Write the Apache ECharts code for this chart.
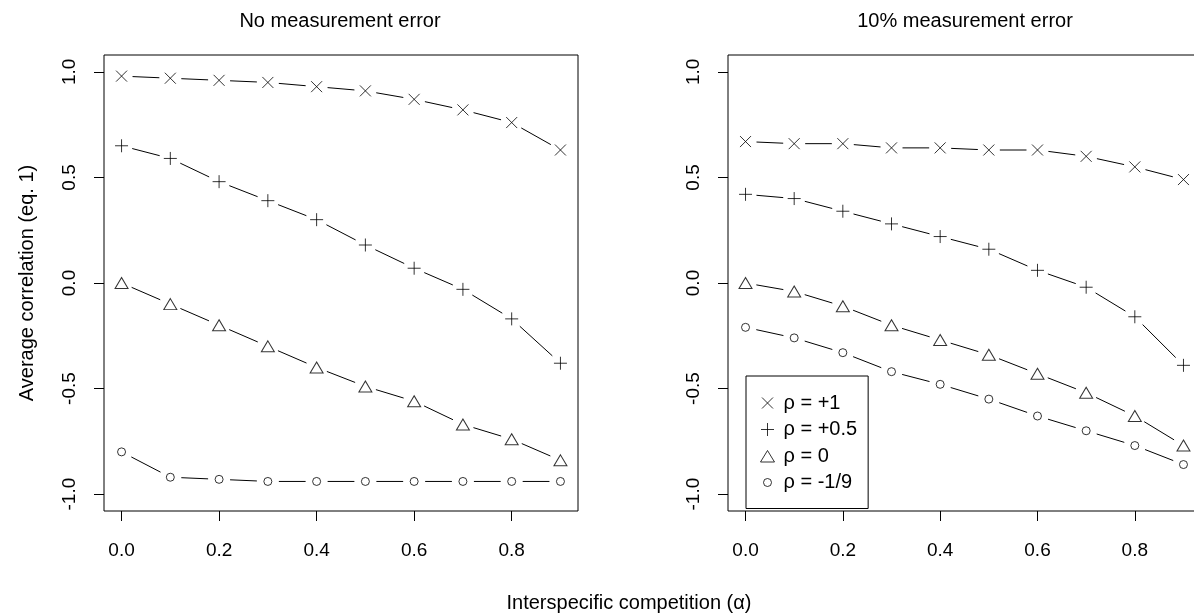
<!DOCTYPE html>
<html>
<head>
<meta charset="utf-8">
<script src="https://cdn.jsdelivr.net/npm/echarts@6/dist/echarts.min.js"></script>
<style>
  html, body { margin: 0; padding: 0; background: #fff; }
  #container { width: 1194px; height: 616px; }
</style>
</head>
<body>
<div id="container"></div>
<script>
var alphas = [0, 0.1, 0.2, 0.3, 0.4, 0.5, 0.6, 0.7, 0.8, 0.9];
var names = ['ρ = +1', 'ρ = +0.5', 'ρ = 0', 'ρ = -1/9'];

// left panel: no measurement error
var noErrP1   = [0.98, 0.97, 0.96, 0.95, 0.93, 0.91, 0.87, 0.82, 0.76, 0.63];
var noErrP05  = [0.65, 0.59, 0.48, 0.39, 0.30, 0.18, 0.07, -0.03, -0.17, -0.38];
var noErrP0   = [0.00, -0.10, -0.20, -0.30, -0.40, -0.49, -0.56, -0.67, -0.74, -0.84];
var noErrM19  = [-0.80, -0.92, -0.93, -0.94, -0.94, -0.94, -0.94, -0.94, -0.94, -0.94];

// right panel: 10% measurement error
var errP1  = [0.67, 0.66, 0.66, 0.64, 0.64, 0.63, 0.63, 0.60, 0.55, 0.49];
var errP05 = [0.42, 0.40, 0.34, 0.28, 0.22, 0.16, 0.06, -0.02, -0.16, -0.39];
var errP0  = [0.00, -0.04, -0.11, -0.20, -0.27, -0.34, -0.43, -0.52, -0.63, -0.77];
var errM19 = [-0.21, -0.26, -0.33, -0.42, -0.48, -0.55, -0.63, -0.70, -0.77, -0.86];

var xTicks = [0, 0.2, 0.4, 0.6, 0.8];
var yTicks = [-1, -0.5, 0, 0.5, 1];

var FONT = 'Liberation Sans, Arial, sans-serif';
var GAP = 11;

var symbols = [
  { symbol: 'path://M0,0L10,10M10,0L0,10', size: 11 },
  { symbol: 'path://M5,0L5,10M0,5L10,5', size: 13 },
  { symbol: 'triangle', size: [13, 11] },
  { symbol: 'circle', size: 8 }
];
var legendIcons = [
  'path://M0,0M16,16M2.5,2.5L13.5,13.5M13.5,2.5L2.5,13.5',
  'path://M0,0M16,16M8,1.5L8,14.5M1.5,8L14.5,8',
  'path://M0,0M16,16M8,2.5L15,14L1,14Z',
  'path://M0,0M16,16M4,8a4,4 0 1,0 8,0a4,4 0 1,0 -8,0'
];

// R type="b": segments between points, cut short near each symbol
function renderGapLine(params, api) {
  var p0 = api.coord([api.value(0), api.value(1)]);
  var p1 = api.coord([api.value(2), api.value(3)]);
  var dx = p1[0] - p0[0], dy = p1[1] - p0[1];
  var len = Math.sqrt(dx * dx + dy * dy);
  if (len <= 2 * GAP) return null;
  var ux = dx / len, uy = dy / len;
  return {
    type: 'line',
    shape: { x1: p0[0] + ux * GAP, y1: p0[1] + uy * GAP, x2: p1[0] - ux * GAP, y2: p1[1] - uy * GAP },
    style: { stroke: '#000', lineWidth: 1 }
  };
}

var series = [];
function addPanel(idx, sets) {
  sets.forEach(function (vals, k) {
    var segs = [];
    for (var i = 0; i < alphas.length - 1; i++) {
      segs.push([alphas[i], vals[i], alphas[i + 1], vals[i + 1]]);
    }
    series.push({
      type: 'custom',
      xAxisIndex: idx, yAxisIndex: idx,
      renderItem: renderGapLine,
      encode: { x: [0, 2], y: [1, 3] },
      data: segs,
      silent: true,
      z: 1
    });
    series.push({
      type: 'scatter',
      name: names[k],
      xAxisIndex: idx, yAxisIndex: idx,
      symbol: symbols[k].symbol,
      symbolSize: symbols[k].size,
      itemStyle: { color: '#fff', borderColor: '#000', borderWidth: 1 },
      data: alphas.map(function (a, i) { return [a, vals[i]]; }),
      silent: true,
      z: 3
    });
  });
}
addPanel(0, [noErrP1, noErrP05, noErrP0, noErrM19]);
addPanel(1, [errP1, errP05, errP0, errM19]);

function xAxisCfg(idx) {
  return {
    type: 'value', gridIndex: idx, position: 'bottom', min: -0.036, max: 0.936,
    axisLine: { show: false, onZero: false }, splitLine: { show: false },
    axisTick: { show: true, customValues: xTicks, length: 10, lineStyle: { color: '#000', width: 1 } },
    axisLabel: {
      customValues: xTicks, margin: 30, fontSize: 19, color: '#000', fontFamily: FONT,
      formatter: function (v) { return v.toFixed(1); }
    }
  };
}
function yAxisCfg(idx) {
  return {
    type: 'value', gridIndex: idx, position: 'left', min: -1.08, max: 1.08,
    axisLine: { show: false, onZero: false }, splitLine: { show: false },
    axisTick: { show: true, customValues: yTicks, length: 10, lineStyle: { color: '#000', width: 1 } },
    axisLabel: {
      customValues: yTicks, margin: 25, rotate: 90, fontSize: 19, color: '#000', fontFamily: FONT,
      formatter: function (v) { return v.toFixed(1); }
    }
  };
}

var myChart = echarts.init(document.getElementById('container'));
var option = {
  backgroundColor: '#fff',
  animation: false,
  grid: [
    { left: 104, top: 55, width: 474, height: 456, show: true, borderColor: '#000', borderWidth: 1,
      backgroundColor: 'transparent', outerBoundsMode: 'none' },
    { left: 728, top: 55, width: 473, height: 456, show: true, borderColor: '#000', borderWidth: 1,
      backgroundColor: 'transparent', outerBoundsMode: 'none' }
  ],
  xAxis: [xAxisCfg(0), xAxisCfg(1)],
  yAxis: [yAxisCfg(0), yAxisCfg(1)],
  legend: {
    show: true,
    orient: 'vertical',
    left: 746, top: 376,
    selectedMode: false,
    padding: [17, 11, 16, 13],
    itemGap: 6.5,
    itemWidth: 16, itemHeight: 16,
    borderColor: '#000', borderWidth: 1, borderRadius: 0,
    backgroundColor: '#fff',
    itemStyle: { color: '#fff', borderColor: '#000', borderWidth: 1 },
    textStyle: { fontSize: 20, color: '#000', fontFamily: FONT, lineHeight: 18, padding: [0, 0, 0, 3] },
    data: names.map(function (n, k) { return { name: n, icon: legendIcons[k] }; })
  },
  graphic: [
    { type: 'text', x: 340, y: 21, style: { text: 'No measurement error', fontSize: 20, fontFamily: FONT, fill: '#000', align: 'center', verticalAlign: 'middle' } },
    { type: 'text', x: 965, y: 21, style: { text: '10% measurement error', fontSize: 20, fontFamily: FONT, fill: '#000', align: 'center', verticalAlign: 'middle' } },
    { type: 'text', x: 629, y: 603, style: { text: 'Interspecific competition (α)', fontSize: 20, fontFamily: FONT, fill: '#000', align: 'center', verticalAlign: 'middle' } },
    { type: 'text', x: 27, y: 283, rotation: Math.PI / 2, style: { text: 'Average correlation (eq. 1)', fontSize: 20, fontFamily: FONT, fill: '#000', align: 'center', verticalAlign: 'middle' } }
  ],
  series: series
};
myChart.setOption(option, true);
</script>
</body>
</html>
